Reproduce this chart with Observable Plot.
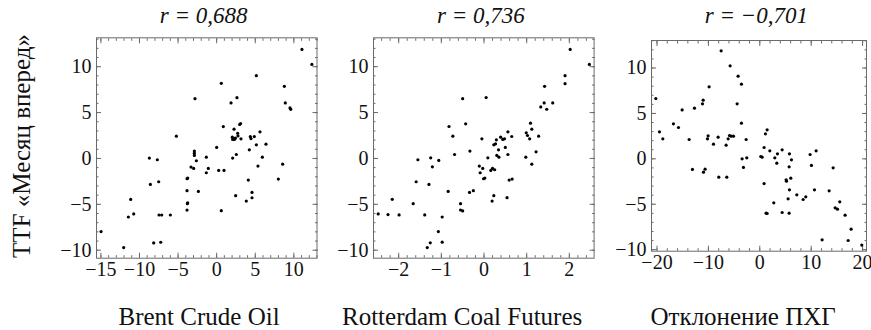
<!DOCTYPE html>
<html>
<head>
<meta charset="utf-8">
<script src="https://cdn.jsdelivr.net/npm/d3@7"></script>
<script src="https://cdn.jsdelivr.net/npm/@observablehq/plot@0.6"></script>
<style>
  body { margin: 0; background: #fff; }
  #wrap { position: relative; width: 871px; height: 330px; }
  #wrap svg { position: absolute; overflow: visible; }
  .t { font-family: 'Liberation Serif', 'Times New Roman', 'DejaVu Serif', serif; font-size: 24px; line-height: 28px; white-space: nowrap; color: #111; position: absolute; }
</style>
</head>
<body>
<div id="wrap"></div>
<script>
// ---- data ----
const titles = ["r = 0,688", "r = 0,736", "r = −0,701"];
const xLabels = ["Brent Crude Oil", "Rotterdam Coal Futures", "Отклонение ПХГ"];
const yLabel = "TTF «Месяц вперед»";

const brentX = [-14.98,-12.05,-11.44,-11.14,-10.75,-8.72,-8.59,-8.16,-7.69,-7.51,-7.47,-7.25,-7.12,-6.0,-5.22,-3.84,-3.75,-3.84,-3.8,-3.75,-3.84,-3.32,-2.98,-2.89,-2.89,-2.89,-2.81,-2.63,-2.37,-1.34,-1.34,-1.08,0.0,0.26,0.6,0.6,0.86,0.95,1.86,2.03,2.07,2.07,2.25,2.3,2.42,2.46,2.55,2.63,2.72,2.76,2.98,3.1,3.15,3.84,4.1,4.23,4.36,4.45,4.58,4.58,4.88,5.14,5.14,5.35,5.61,5.92,6.39,7.99,8.55,8.77,8.89,9.5,9.6,11.05,12.34];
const brentY = [-7.97,-9.71,-6.38,-4.46,-6.05,0.04,-2.83,-9.2,-0.14,-2.54,-6.16,-9.13,-6.16,-6.16,2.43,-2.21,-2.14,-3.51,-4.93,-4.84,-5.62,-0.94,-1.09,0.8,0.58,0.33,6.52,-0.25,-3.59,0.14,-1.56,-1.09,1.2,-1.3,8.19,-5.69,3.48,-1.3,6.05,2.32,2.07,0.04,3.19,2.07,2.21,-4.06,0.43,6.63,2.75,2.46,3.7,3.8,2.14,-4.64,-2.36,0.94,2.39,2.17,-3.7,-4.28,2.39,1.49,9.02,-0.83,2.9,0.14,1.56,-2.25,-0.62,7.86,6.05,5.51,5.35,11.88,10.25];

const coalX = [-2.48,-2.25,-2.15,-1.99,-1.66,-1.59,-1.55,-1.39,-1.33,-1.29,-1.26,-1.25,-1.21,-1.07,-1.06,-0.98,-0.98,-0.84,-0.82,-0.73,-0.69,-0.55,-0.55,-0.5,-0.5,-0.43,-0.34,-0.33,-0.25,-0.11,-0.09,-0.05,-0.03,-0.01,0.02,0.05,0.09,0.16,0.19,0.2,0.23,0.23,0.25,0.27,0.29,0.3,0.34,0.35,0.39,0.44,0.48,0.5,0.54,0.56,0.56,0.59,0.65,0.66,0.98,0.99,1.02,1.07,1.09,1.12,1.12,1.22,1.28,1.33,1.42,1.41,1.47,1.61,1.9,1.9,2.02,2.47];
const coalY = [-6.05,-6.12,-4.46,-6.16,-4.93,-2.54,-0.14,-6.16,-9.71,-2.83,-9.2,0.07,-0.91,-7.97,-0.22,-6.38,-9.13,-3.59,3.48,2.43,0.43,-4.93,-5.62,-5.72,6.52,3.77,-3.7,0.8,-3.51,-0.83,-1.56,2.14,-1.09,-2.21,-2.14,6.63,0.07,-1.3,-4.64,-1.09,-4.06,1.49,-1.23,1.59,2.03,0.33,0.94,0.14,2.32,2.07,2.14,1.2,-4.28,2.9,0.43,-2.36,2.39,-2.25,0.14,2.79,2.5,2.14,3.84,3.19,-0.62,0.72,2.43,5.62,7.86,6.05,5.36,6.05,9.02,8.15,11.88,10.25];

const ugsX = [-20.23,-19.52,-18.87,-16.8,-15.82,-15.11,-13.75,-13.1,-12.71,-11.15,-11.02,-10.96,-10.64,-10.18,-10.05,-9.86,-9.01,-8.11,-7.98,-7.52,-6.55,-6.42,-6.16,-5.9,-5.77,-5.58,-5.12,-4.41,-4.22,-3.57,-3.57,-3.44,-3.18,-2.66,-2.53,0.19,0.45,0.84,0.84,1.1,1.23,1.43,1.43,1.95,2.72,2.92,3.31,3.44,4.35,4.35,5.12,5.19,5.51,5.71,5.71,5.77,5.77,6.03,6.16,7.2,8.43,8.95,9.79,10.05,10.64,10.96,12.13,13.49,14.27,14.66,15.11,15.56,16.6,17.19,17.77,19.84];
const ugsY = [6.64,2.97,2.2,3.85,3.45,5.39,2.13,-1.17,5.58,6.06,6.46,-1.47,-1.14,2.2,2.53,7.93,1.61,2.39,-2.02,11.89,1.5,-2.02,2.2,2.57,10.24,2.5,2.5,6.06,9.1,8.22,3.93,0.0,-0.95,2.13,0.11,0.26,0.18,1.25,-2.72,2.75,-5.98,3.19,-6.02,0.88,-4.84,0.11,-0.48,0.55,-5.91,0.99,-2.31,-2.46,-4.4,-5.98,-0.88,0.55,-3.41,-2.13,-0.11,-3.96,-4.48,-4.18,0.48,-0.73,-3.41,0.88,-8.92,-3.52,-0.99,-5.39,-5.54,-4.73,-6.2,-8.99,-7.74,-9.5];

const majorX = [[-15,-10,-5,0,5,10],[-2,-1,0,1,2],[-20,-10,0,10,20]];
const majorY = [-10,-5,0,5,10];

// ---- layout ----
const FONT = "'Liberation Serif', 'Times New Roman', 'DejaVu Serif', serif";
const SVG_TOP = 30, SVG_BOTTOM = 292, PAD_L = 58, PAD_R = 5;
const panels = [
  {xs: brentX, ys: brentY, frame: [95.5, 316, 37.3, 257.7], xd: [-15.57, 13.0], yd: [-10.87, 13.15], minor: d3.range(-15, 14, 1)},
  {xs: coalX, ys: coalY, frame: [372.7, 593.3, 37.3, 257.7], xd: [-2.59, 2.58], yd: [-10.87, 13.15], minor: d3.range(-24, 25, 2).map(d => d / 10)},
  {xs: ugsX, ys: ugsY, frame: [650.7, 865.7, 40, 250.7], xd: [-21.07, 20.76], yd: [-10.17, 13.03], minor: d3.range(-20, 21, 2)}
];
const fmt = d => d < 0 ? "−" + Math.abs(d) : String(d);
const wrap = document.getElementById("wrap");
const grey = "#6a6a6a";

function addLabel(text, cx, cy, opts = {}) {
  const d = document.createElement("div");
  d.className = "t";
  d.textContent = text;
  if (opts.italic) d.style.fontStyle = "italic";
  if (opts.size) d.style.fontSize = opts.size + "px";
  wrap.appendChild(d);
  const w = d.offsetWidth, h = d.offsetHeight;
  d.style.left = (cx - w / 2) + "px";
  d.style.top = (cy - h / 2) + "px";
  if (opts.rotate) d.style.transform = "rotate(-90deg)";
}

panels.forEach((p, i) => {
  const [l, r, t, b] = p.frame;
  const pts = p.xs.map((x, k) => ({x, y: p.ys[k]}));
  const minorY = d3.range(-10, 14, 1);
  const tickCommon = {stroke: grey, tickFormat: () => "", label: null};
  const width = (r - l) + PAD_L + PAD_R;
  const height = SVG_BOTTOM - SVG_TOP;
  const svg = Plot.plot({
    width, height,
    marginLeft: PAD_L, marginRight: PAD_R, marginTop: t - SVG_TOP, marginBottom: SVG_BOTTOM - b,
    style: {background: "transparent", overflow: "visible", fontFamily: FONT},
    x: {domain: p.xd},
    y: {domain: p.yd},
    marks: [
      Plot.axisX({anchor: "bottom", ticks: majorX[i], tickSize: 0, tickPadding: 4, tickFormat: fmt, fontSize: 20, fontFamily: FONT, fill: "#111", label: null}),
      Plot.axisY({anchor: "left", ticks: majorY, tickSize: 0, tickPadding: 5, tickFormat: fmt, fontSize: 20, fontFamily: FONT, fill: "#111", label: null}),
      Plot.axisX({anchor: "bottom", ticks: majorX[i], tickSize: -5, ...tickCommon}),
      Plot.axisX({anchor: "top", ticks: majorX[i], tickSize: -5, ...tickCommon}),
      Plot.axisY({anchor: "left", ticks: majorY, tickSize: -5, ...tickCommon}),
      Plot.axisY({anchor: "right", ticks: majorY, tickSize: -5, ...tickCommon}),
      Plot.axisX({anchor: "bottom", ticks: p.minor, tickSize: -2.5, ...tickCommon}),
      Plot.axisX({anchor: "top", ticks: p.minor, tickSize: -2.5, ...tickCommon}),
      Plot.axisY({anchor: "left", ticks: minorY, tickSize: -2.5, ...tickCommon}),
      Plot.axisY({anchor: "right", ticks: minorY, tickSize: -2.5, ...tickCommon}),
      Plot.frame({stroke: grey, strokeWidth: 1}),
      Plot.dot(pts, {x: "x", y: "y", r: 1.6, fill: "#000", stroke: null})
    ]
  });
  svg.style.left = (l - PAD_L) + "px";
  svg.style.top = SVG_TOP + "px";
  wrap.appendChild(svg);
  addLabel(titles[i], (l + r) / 2 - 2, 16, {italic: true, size: 23});
});

const xlPos = [199, 462, 743];
xLabels.forEach((s, i) => addLabel(s, xlPos[i], 317, {size: 25}));
addLabel(yLabel, 22, 146, {rotate: true, size: 25});
</script>
</body>
</html>
